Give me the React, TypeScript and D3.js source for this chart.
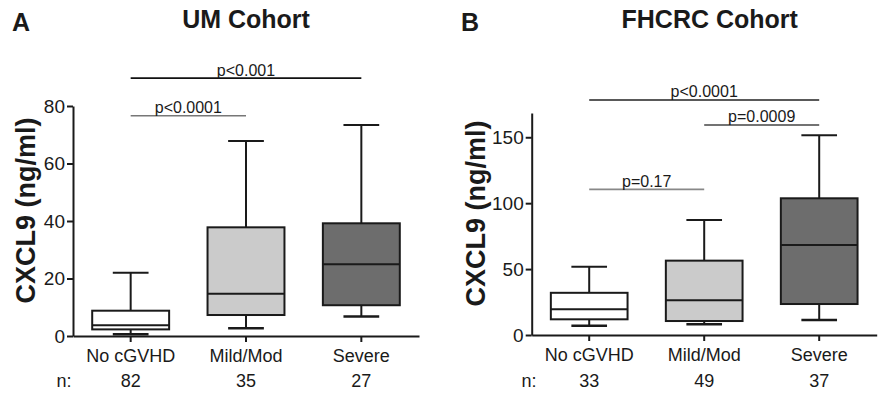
import { useEffect, useRef } from "react";
import * as d3 from "d3";

// groups shared by both cohorts
const groups = ["No cGVHD", "Mild/Mod", "Severe"];
const groupFills = ["#ffffff", "#cbcbcb", "#6d6d6d"];

// UM cohort, CXCL9 ng/ml (whisker low, q1, median, q3, whisker high)
const umLow = [0.6, 2.7, 6.8];
const umQ1 = [2.3, 7.3, 10.7];
const umMedian = [3.7, 14.7, 25];
const umQ3 = [8.8, 37.8, 39.2];
const umHigh = [22, 67.8, 73.4];
const umN = ["82", "35", "27"];
const umTicks = [0, 20, 40, 60, 80];
const umSigFrom = [0, 0];
const umSigTo = [2, 1];
const umSigAt = [89.7, 76.6];
const umSigText = ["p<0.001", "p<0.0001"];
const umSigColor = ["#111111", "#777777"];

// FHCRC cohort
const fhLow = [7.1, 8.1, 11.4];
const fhQ1 = [11.9, 10.6, 23.5];
const fhMedian = [19.5, 26.3, 68.3];
const fhQ3 = [32, 56.4, 103.7];
const fhHigh = [51.8, 87.3, 151.5];
const fhN = ["33", "49", "37"];
const fhTicks = [0, 50, 100, 150];
const fhSigFrom = [0, 1, 0];
const fhSigTo = [2, 2, 1];
const fhSigAt = [178.3, 159.3, 110.5];
const fhSigText = ["p<0.0001", "p=0.0009", "p=0.17"];
const fhSigColor = ["#222222", "#444444", "#888888"];

const FONT = "'Liberation Sans', Arial, Helvetica, sans-serif";
const INK = "#1a1a1a";

type PanelProps = {
  x0: number; x1: number; yTop: number; yBottom: number; yMax: number;
  ticks: number[];
  low: number[]; q1: number[]; med: number[]; q3: number[]; high: number[];
  n: string[];
  sigFrom: number[]; sigTo: number[]; sigAt: number[]; sigText: string[]; sigColor: string[];
  title: string; titleX: number; letter: string; letterX: number;
  labelX: number; labelY: number; nX: number;
};

function Panel(p: PanelProps) {
  const yAxisRef = useRef<SVGGElement>(null);
  const xAxisRef = useRef<SVGGElement>(null);

  const x = d3.scaleBand().domain(groups).range([p.x0, p.x1]).padding(0);
  const y = d3.scaleLinear().domain([0, p.yMax]).range([p.yBottom, p.yTop]);
  const bw = x.bandwidth();
  const boxW = bw * 0.667;
  const capW = bw * 0.31;
  const cx = (i: number) => (x(groups[i]) as number) + bw / 2;

  useEffect(() => {
    const ya = d3.select(yAxisRef.current!);
    ya.selectAll("*").remove();
    ya.call(d3.axisLeft(y).tickValues(p.ticks).tickSize(6).tickSizeOuter(0).tickPadding(2));
    ya.selectAll("path, line").attr("stroke", INK).attr("stroke-width", 2);
    ya.selectAll("text").attr("font-size", 19).attr("font-family", FONT).attr("fill", INK);

    const xa = d3.select(xAxisRef.current!);
    xa.selectAll("*").remove();
    xa.call(d3.axisBottom(x).tickSize(6).tickSizeOuter(0).tickPadding(7));
    xa.selectAll("path, line").attr("stroke", INK).attr("stroke-width", 2);
    xa.selectAll("text").attr("font-size", 18).attr("font-family", FONT).attr("fill", INK);
  });

  return (
    <g fontFamily={FONT}>
      <text x={p.letterX} y={31} fontSize={25} fontWeight="bold" fill={INK}>{p.letter}</text>
      <text x={p.titleX} y={27.5} fontSize={25} fontWeight="bold" textAnchor="middle" fill={INK}>{p.title}</text>
      <text transform={`translate(${p.labelX},${p.labelY}) rotate(-90)`} fontSize={27} fontWeight="bold"
        textAnchor="middle" fill={INK}>CXCL9 (ng/ml)</text>

      {groups.map((g, i) => (
        <g key={g}>
          <line x1={cx(i)} x2={cx(i)} y1={y(p.high[i])} y2={y(p.q3[i])} stroke={INK} strokeWidth={2} />
          <line x1={cx(i)} x2={cx(i)} y1={y(p.low[i])} y2={y(p.q1[i])} stroke={INK} strokeWidth={2} />
          <line x1={cx(i) - capW / 2} x2={cx(i) + capW / 2} y1={y(p.high[i])} y2={y(p.high[i])} stroke={INK} strokeWidth={2} />
          <line x1={cx(i) - capW / 2} x2={cx(i) + capW / 2} y1={y(p.low[i])} y2={y(p.low[i])} stroke={INK} strokeWidth={2.5} />
          <rect x={cx(i) - boxW / 2} width={boxW} y={y(p.q3[i])} height={y(p.q1[i]) - y(p.q3[i])}
            fill={groupFills[i]} stroke={INK} strokeWidth={2} />
          <line x1={cx(i) - boxW / 2} x2={cx(i) + boxW / 2} y1={y(p.med[i])} y2={y(p.med[i])} stroke={INK} strokeWidth={2} />
          <text x={cx(i)} y={386.5} fontSize={18} textAnchor="middle" fill={INK}>{p.n[i]}</text>
        </g>
      ))}
      <text x={p.nX} y={386.5} fontSize={18} fill={INK}>n:</text>

      {p.sigText.map((t, k) => (
        <g key={t}>
          <line x1={cx(p.sigFrom[k])} x2={cx(p.sigTo[k])} y1={y(p.sigAt[k])} y2={y(p.sigAt[k])}
            stroke={p.sigColor[k]} strokeWidth={1.6} />
          <text x={(cx(p.sigFrom[k]) + cx(p.sigTo[k])) / 2} y={y(p.sigAt[k]) - 2.5} fontSize={16}
            textAnchor="middle" fill={INK}>{t}</text>
        </g>
      ))}

      <g ref={yAxisRef} transform={`translate(${p.x0},0)`} />
      <g ref={xAxisRef} transform={`translate(0,${p.yBottom})`} />
    </g>
  );
}

export default function App() {
  return (
    <svg width={880} height={395} style={{ position: "absolute", left: 0, top: 0, background: "#fff" }}>
      <Panel x0={73} x1={419} yTop={106} yBottom={336} yMax={80} ticks={umTicks}
        low={umLow} q1={umQ1} med={umMedian} q3={umQ3} high={umHigh} n={umN}
        sigFrom={umSigFrom} sigTo={umSigTo} sigAt={umSigAt} sigText={umSigText} sigColor={umSigColor}
        title="UM Cohort" titleX={246} letter="A" letterX={12} labelX={35} labelY={210.5} nX={56.5} />
      <Panel x0={531.7} x1={876.7} yTop={113} yBottom={335} yMax={168.4} ticks={fhTicks}
        low={fhLow} q1={fhQ1} med={fhMedian} q3={fhQ3} high={fhHigh} n={fhN}
        sigFrom={fhSigFrom} sigTo={fhSigTo} sigAt={fhSigAt} sigText={fhSigText} sigColor={fhSigColor}
        title="FHCRC Cohort" titleX={709.7} letter="B" letterX={461} labelX={485} labelY={213.5} nX={521.5} />
    </svg>
  );
}
